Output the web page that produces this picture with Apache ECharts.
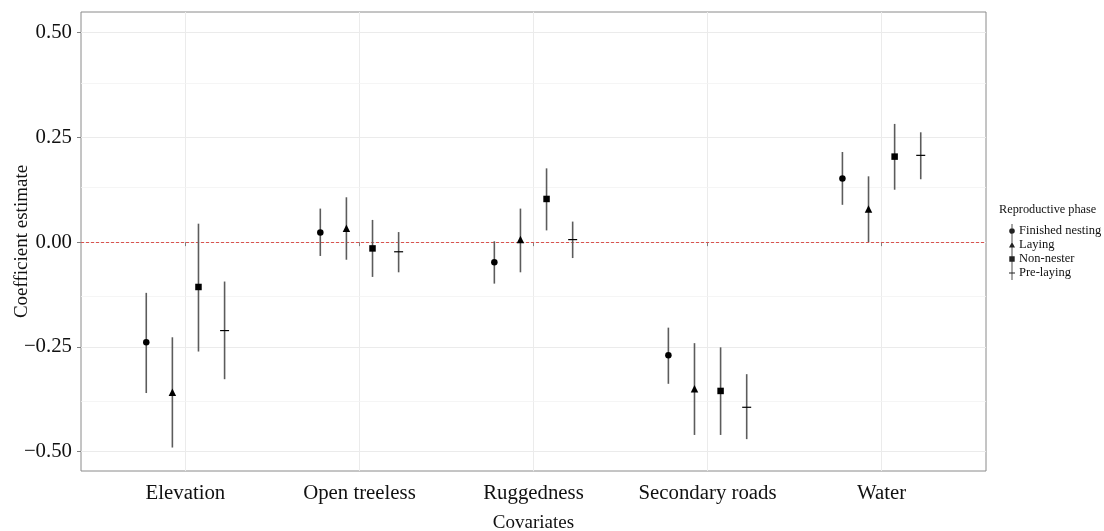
<!DOCTYPE html>
<html>
<head>
<meta charset="utf-8">
<script src="https://cdn.jsdelivr.net/npm/echarts@6/dist/echarts.min.js"></script>
<style>html,body{margin:0;padding:0;background:#fff;}#c{width:1104px;height:531px;}</style>
</head>
<body>
<div id="c"></div>
<script>
const categories = ['Elevation', 'Open treeless', 'Ruggedness', 'Secondary roads', 'Water'];
const phases = ['Finished nesting', 'Laying', 'Non-nester', 'Pre-laying'];
const yTicks = [-0.5, -0.25, 0, 0.25, 0.5];
const yMinorLines = [-0.375, -0.125, 0.125, 0.375];

const finishedEst = [-0.239, 0.023, -0.048, -0.270, 0.152];
const finishedLo  = [-0.360, -0.033, -0.099, -0.338, 0.089];
const finishedHi  = [-0.121, 0.080, 0.002, -0.204, 0.215];

const layingEst = [-0.358, 0.033, 0.006, -0.350, 0.079];
const layingLo  = [-0.490, -0.042, -0.072, -0.460, 0.000];
const layingHi  = [-0.227, 0.107, 0.080, -0.241, 0.157];

const nonNesterEst = [-0.107, -0.015, 0.103, -0.355, 0.204];
const nonNesterLo  = [-0.261, -0.083, 0.028, -0.460, 0.125];
const nonNesterHi  = [0.044, 0.053, 0.176, -0.251, 0.282];

const preLayingEst = [-0.211, -0.023, 0.006, -0.394, 0.207];
const preLayingLo  = [-0.327, -0.072, -0.038, -0.470, 0.150];
const preLayingHi  = [-0.094, 0.024, 0.049, -0.315, 0.262];

const phaseData = [
  [finishedEst, finishedLo, finishedHi],
  [layingEst, layingLo, layingHi],
  [nonNesterEst, nonNesterLo, nonNesterHi],
  [preLayingEst, preLayingLo, preLayingHi]
];
const dodge = [-0.225, -0.075, 0.075, 0.225];
const symbols = [
  'circle',
  'triangle',
  'rect',
  'path://M0,0 L9,0 L9,1 L0,1 Z'
];
const symbolSizes = [6.5, 7.5, 6.5, [9, 1.2]];
const legendIcons = [
  'path://M2.6,0 L3.4,0 L3.4,14 L2.6,14 Z M3,4.2 A2.8,2.8 0 1 1 2.99,4.2 Z',
  'path://M2.6,0 L3.4,0 L3.4,14 L2.6,14 Z M3,4 L6,9.5 L0,9.5 Z',
  'path://M2.6,0 L3.4,0 L3.4,14 L2.6,14 Z M0.3,4.3 L5.7,4.3 L5.7,9.7 L0.3,9.7 Z',
  'path://M2.6,0 L3.4,0 L3.4,14 L2.6,14 Z M0,6.6 L6,6.6 L6,7.4 L0,7.4 Z'
];

const FONT = '"Liberation Serif", "DejaVu Serif", serif';
const series = [];

phases.forEach(function (ph, p) {
  const est = phaseData[p][0], lo = phaseData[p][1], hi = phaseData[p][2];
  series.push({
    type: 'custom',
    name: ph + ' CI',
    silent: true,
    z: 2,
    data: categories.map(function (c, i) { return [i + 1 + dodge[p], lo[i], hi[i]]; }),
    renderItem: function (params, api) {
      const a = api.coord([api.value(0), api.value(1)]);
      const b = api.coord([api.value(0), api.value(2)]);
      return {
        type: 'line',
        shape: { x1: a[0], y1: a[1], x2: b[0], y2: b[1] },
        style: { stroke: '#5c5c5c', lineWidth: 1.6 }
      };
    }
  });
  series.push({
    type: 'scatter',
    name: ph,
    z: 3,
    symbol: symbols[p],
    symbolSize: symbolSizes[p],
    itemStyle: { color: '#000', opacity: 1 },
    data: categories.map(function (c, i) { return [i + 1 + dodge[p], est[i]]; })
  });
});

series.push({
  type: 'line',
  name: 'ref',
  data: [],
  silent: true,
  markLine: {
    silent: true,
    symbol: 'none',
    label: { show: false },
    z: 1,
    data: yMinorLines.map(function (v) {
      return { yAxis: v, lineStyle: { color: '#f3f3f3', width: 0.8, type: 'solid' } };
    }).concat([{ yAxis: 0, lineStyle: { color: '#d9534f', width: 1, type: [3, 2] } }])
  }
});

const chart = echarts.init(document.getElementById('c'), null, { renderer: 'canvas' });
chart.setOption({
  backgroundColor: '#fff',
  animation: false,
  grid: {
    left: 81, top: 12, right: 118, bottom: 60,
    outerBoundsMode: 'none',
    containLabel: false,
    show: true, borderColor: '#8a8a8a', borderWidth: 1, backgroundColor: 'transparent'
  },
  legend: {
    orient: 'vertical',
    left: 1004,
    top: 219,
    itemWidth: 6,
    itemHeight: 14,
    itemGap: 0,
    data: phases.map(function (ph, p) {
      return { name: ph, icon: legendIcons[p], itemStyle: { color: '#222' } };
    }),
    textStyle: { fontFamily: FONT, fontSize: 12.5, color: '#111', padding: [0, 0, 0, -1] },
    selectedMode: false
  },
  graphic: [{
    type: 'text',
    left: 999,
    top: 204,
    style: { text: 'Reproductive phase', font: '12.3px ' + FONT, fill: '#111' }
  }],
  xAxis: {
    type: 'value',
    min: 0.4,
    max: 5.6,
    axisLine: { show: false },
    axisTick: { show: true, customValues: [1, 2, 3, 4, 5], length: 4, lineStyle: { color: '#808080' } },
    axisLabel: {
      customValues: [1, 2, 3, 4, 5],
      formatter: function (v) { return categories[Math.round(v) - 1]; },
      fontFamily: FONT, fontSize: 20.8, color: '#111', margin: 12
    },
    splitLine: { show: true, lineStyle: { color: '#ebebeb', width: 1 } },
    name: 'Covariates',
    nameLocation: 'middle',
    nameGap: 43,
    nameMoveOverlap: false,
    nameTextStyle: { fontFamily: FONT, fontSize: 19, color: '#111' }
  },
  yAxis: {
    type: 'value',
    min: -0.546,
    max: 0.549,
    axisLine: { show: false },
    axisTick: { show: true, customValues: yTicks, length: 4, lineStyle: { color: '#808080' } },
    axisLabel: {
      customValues: yTicks,
      formatter: function (v) {
        const s = Math.abs(v).toFixed(2);
        return v < -1e-9 ? '\u2212' + s : s;
      },
      fontFamily: FONT, fontSize: 20.8, color: '#111', margin: 9
    },
    splitLine: { show: true, lineStyle: { color: '#ebebeb', width: 1 } },
    name: 'Coefficient estimate',
    nameLocation: 'middle',
    nameGap: 49,
    nameMoveOverlap: false,
    nameTextStyle: { fontFamily: FONT, fontSize: 19, color: '#111' }
  },
  series: series
});
</script>
</body>
</html>
